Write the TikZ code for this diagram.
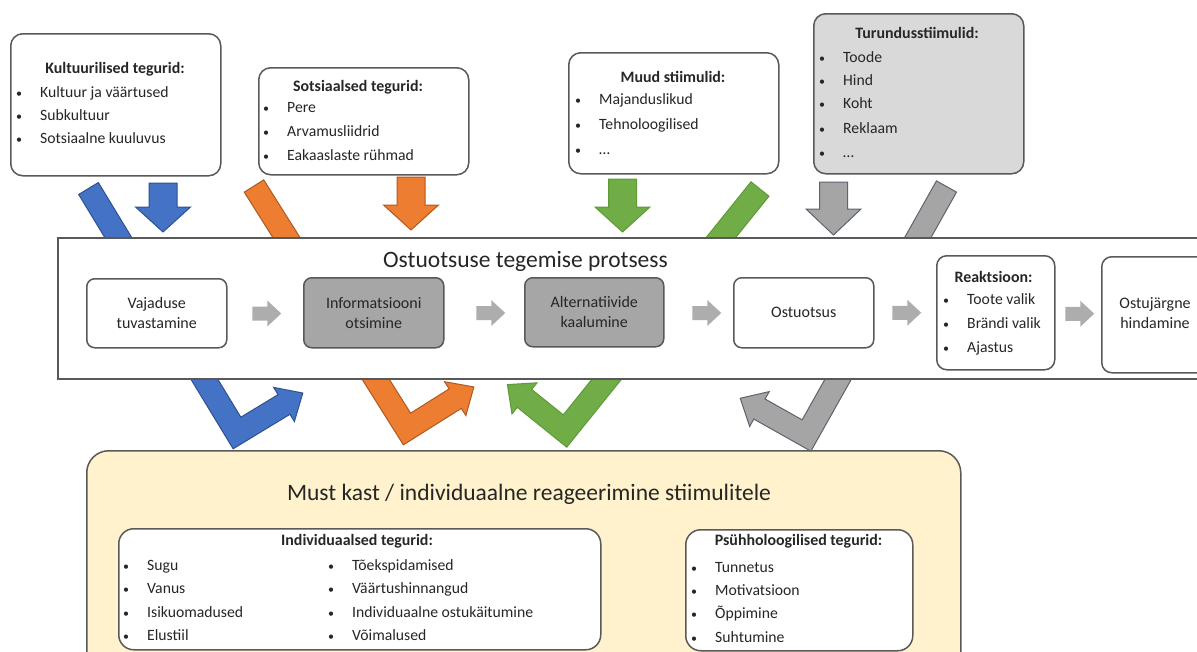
\documentclass[tikz,border=0pt]{standalone}
\usepackage{fontspec}
\setmainfont{Carlito}
\usetikzlibrary{calc}
\definecolor{boxline}{HTML}{595959}
\definecolor{txt}{HTML}{262626}
\definecolor{turfill}{HTML}{D9D9D9}
\definecolor{stepdark}{HTML}{A6A6A6}
\definecolor{smallarr}{HTML}{ADADAD}
\definecolor{blueA}{HTML}{4472C4}
\definecolor{blueD}{HTML}{2F528F}
\definecolor{orangeA}{HTML}{ED7D31}
\definecolor{orangeD}{HTML}{AE5A21}
\definecolor{greenA}{HTML}{70AD47}
\definecolor{greenD}{HTML}{5E9A3A}
\definecolor{grayA}{HTML}{A5A5A5}
\definecolor{grayD}{HTML}{5B6470}
\definecolor{yellowbg}{HTML}{FFF2CC}

\tikzset{
 fbox/.style={draw=boxline, line width=1.5pt, rounded corners=12pt, fill=white, inner sep=0pt, anchor=north west},
 ttl/.style={font=\fontsize{15.9}{18}\selectfont\bfseries, text=txt, inner sep=0pt, anchor=base},
 itm/.style={font=\fontsize{15.7}{18}\selectfont, text=txt, inner sep=0pt, anchor=base west},
 bul/.style={font=\fontsize{12}{14}\selectfont, text=txt, inner sep=0pt, anchor=base},
 steptxt/.style={font=\fontsize{16}{20}\selectfont, text=txt, align=center},
 bigttl/.style={font=\fontsize{23.5}{27}\selectfont, text=txt, inner sep=0pt, anchor=base},
 arrline/.style={line width=1pt, line join=miter},
}

\newcommand\bitem[4]{%
  \node[itm] (#1) at (#2,#3) {#4};
  \node[bul] (#1b) at (#2-21,#3) {•};}

% bent arrow: #1 start S, #2 vertex V, #3 arm length, #4 rotation, #5 fill, #6 outline
\newcommand\bentarrow[6]{%
  \coordinate (bS) at #1;
  \coordinate (bV) at #2;
  \coordinate (bB) at ($(bV)!#3!#4:(bS)$);
  \coordinate (uS) at ($(bV)!11.5pt!(bS)-(bV)$);
  \coordinate (uB) at ($(bV)!11.5pt!(bB)-(bV)$);
  \coordinate (hS) at ($(bV)!20pt!(bS)-(bV)$);
  \coordinate (tB) at ($(bV)!22pt!(bB)-(bV)$);
  \coordinate (bT) at ($(bB)+(tB)$);
  \filldraw[fill=#5, draw=#6, arrline]
    ($(bS)+(uB)$) -- ($(bV)+(uB)+(uS)$) -- ($(bB)+(uS)$) -- ($(bB)+(hS)$)
    -- (bT) -- ($(bB)-(hS)$) -- ($(bB)-(uS)$) -- ($(bV)-(uB)-(uS)$)
    -- ($(bS)-(uB)$) -- cycle;}

% down arrow: #1 cx, #2 top, #3 head base y, #4 tip y, #5 fill, #6 outline
\newcommand\dnarrow[6]{%
  \filldraw[fill=#5, draw=#6, arrline] (#1-14,#2) -- (#1+14,#2) -- (#1+14,#3)
    -- (#1+27.5,#3) -- (#1,#4) -- (#1-27.5,#3) -- (#1-14,#3) -- cycle;}

% small right arrow centred on coordinate #1
\newcommand\rtarrow[1]{%
  \fill[smallarr] ($(#1)+(-14.5,-7)$) -- ($(#1)+(0.5,-7)$) -- ($(#1)+(0.5,-13)$)
    -- ($(#1)+(14.5,0)$) -- ($(#1)+(0.5,13)$) -- ($(#1)+(0.5,7)$)
    -- ($(#1)+(-14.5,7)$) -- cycle;}

\begin{document}
\begin{tikzpicture}[x=1pt,y=-1pt]
\useasboundingbox (0,0) rectangle (1197,651);
\clip (0,0) rectangle (1197,651);
\fill[white] (0,0) rectangle (1197,651);

% ---------- factor boxes ----------
\node[fbox, minimum width=210pt, minimum height=142pt] (kult) at (10,33) {};
\node[ttl] (kultT) at (115,73) {Kultuurilised tegurid:};
\bitem{k1}{40}{97}{Kultuur ja väärtused}
\bitem{k2}{40}{120}{Subkultuur}
\bitem{k3}{40}{143}{Sotsiaalne kuuluvus}

\node[fbox, minimum width=210pt, minimum height=107pt] (sots) at (258,67) {};
\node[ttl] (sotsT) at (358,91) {Sotsiaalsed tegurid:};
\bitem{s1}{287}{112}{Pere}
\bitem{s2}{287}{136}{Arvamusliidrid}
\bitem{s3}{287}{160}{Eakaaslaste rühmad}

\node[fbox, minimum width=210pt, minimum height=121pt] (muud) at (568,52) {};
\node[ttl] (muudT) at (673,82) {Muud stiimulid:};
\bitem{m1}{599}{104}{Majanduslikud}
\bitem{m2}{599}{129}{Tehnoloogilised}
\bitem{m3}{599}{154}{…}

\node[fbox, fill=turfill, minimum width=210pt, minimum height=160pt] (tur) at (813,13) {};
\node[ttl] (turT) at (917,38) {Turundusstiimulid:};
\bitem{t1}{843}{62}{Toode}
\bitem{t2}{843}{85}{Hind}
\bitem{t3}{843}{108}{Koht}
\bitem{t4}{843}{133}{Reklaam}
\bitem{t5}{843}{157}{…}

% ---------- black box ----------
\node[fbox, fill=yellowbg, rounded corners=22pt, minimum width=874pt, minimum height=240pt] (must) at (86,450) {};
\node[bigttl] (mustT) at (529,500) {Must kast / individuaalne reageerimine stiimulitele};

\node[fbox, rounded corners=15pt, minimum width=482pt, minimum height=121pt] (indiv) at (118,528) {};
\node[ttl] (indivT) at (357,545) {Individuaalsed tegurid:};
\bitem{i1}{147}{570}{Sugu}
\bitem{i2}{147}{593}{Vanus}
\bitem{i3}{147}{617}{Isikuomadused}
\bitem{i4}{147}{640}{Elustiil}
\bitem{i5}{352}{570}{Tõekspidamised}
\bitem{i6}{352}{593}{Väärtushinnangud}
\bitem{i7}{352}{617}{Individuaalne ostukäitumine}
\bitem{i8}{352}{640}{Võimalused}

\node[fbox, rounded corners=15pt, minimum width=227pt, minimum height=121pt] (psy) at (685,529) {};
\node[ttl] (psyT) at (798.5,545) {Psühholoogilised tegurid:};
\bitem{p1}{715}{572}{Tunnetus}
\bitem{p2}{715}{595}{Motivatsioon}
\bitem{p3}{715}{618}{Õppimine}
\bitem{p4}{715}{642}{Suhtumine}

% ---------- bent arrows (behind the process box) ----------
\bentarrow{(88.5,188.5)}{(237,433)}{55pt}{-90}{blueA}{blueD}
\bentarrow{(254,186)}{(407,429)}{57pt}{-90}{orangeA}{orangeD}
\bentarrow{(760,189)}{(565,431)}{52pt}{90}{greenA}{greenD}
\bentarrow{(946.5,186.5)}{(806.5,435.5)}{54pt}{90}{grayA}{grayD}

% ---------- process box ----------
\node[draw=boxline, line width=1.8pt, fill=white, inner sep=0pt, anchor=north west,
      minimum width=1180pt, minimum height=141pt] (proc) at (57,237) {};
\node[bigttl] (procT) at (525.5,267) {Ostuotsuse tegemise protsess};

\node[fbox, rounded corners=8pt, minimum width=140pt, minimum height=69pt, steptxt] (v1) at (86,278) {Vajaduse\\tuvastamine};
\node[fbox, rounded corners=8pt, fill=stepdark, minimum width=140pt, minimum height=70pt, steptxt] (v2) at (303,277) {Informatsiooni\\otsimine};
\node[fbox, rounded corners=8pt, fill=stepdark, minimum width=139pt, minimum height=69pt, steptxt] (v3) at (524,277) {Alternatiivide\\kaalumine};
\node[fbox, rounded corners=8pt, minimum width=140pt, minimum height=70pt, steptxt] (v4) at (733,277) {Ostuotsus};
\node[fbox, rounded corners=10pt, minimum width=118pt, minimum height=114pt] (v5) at (936,255) {};
\node[ttl] (v5T) at (993.5,282) {Reaktsioon:};
\bitem{r1}{967}{304}{Toote valik}
\bitem{r2}{967}{328}{Brändi valik}
\bitem{r3}{967}{352}{Ajastus}
\node[fbox, rounded corners=10pt, minimum width=130pt, minimum height=116pt] (v6) at (1101,256) {};
\node[steptxt] (v6T) at (1155,313.5) {Ostujärgne\\hindamine};

\coordinate (a1) at ($(v1.east)!0.5!(v2.west)+(1.5,0.5)$);
\coordinate (a2) at ($(v2.east)!0.5!(v3.west)+(6.5,0.5)$);
\coordinate (a3) at ($(v3.east)!0.5!(v4.west)+(8,0.5)$);
\coordinate (a4) at ($(v4.east)!0.5!(v5.west)+(1.5,0)$);
\coordinate (a5) at ($(v5.east)!0.5!(v6.west)+(1.5,0)$);
\rtarrow{a1}\rtarrow{a2}\rtarrow{a3}\rtarrow{a4}\rtarrow{a5}

% ---------- straight down arrows ----------
\dnarrow{163}{183}{207}{232}{blueA}{blueD}
\dnarrow{411}{177}{205}{230}{orangeA}{orangeD}
\dnarrow{622.5}{179}{207}{232}{greenA}{greenD}
\dnarrow{833.5}{182}{209}{235}{grayA}{grayD}
\end{tikzpicture}
\end{document}
